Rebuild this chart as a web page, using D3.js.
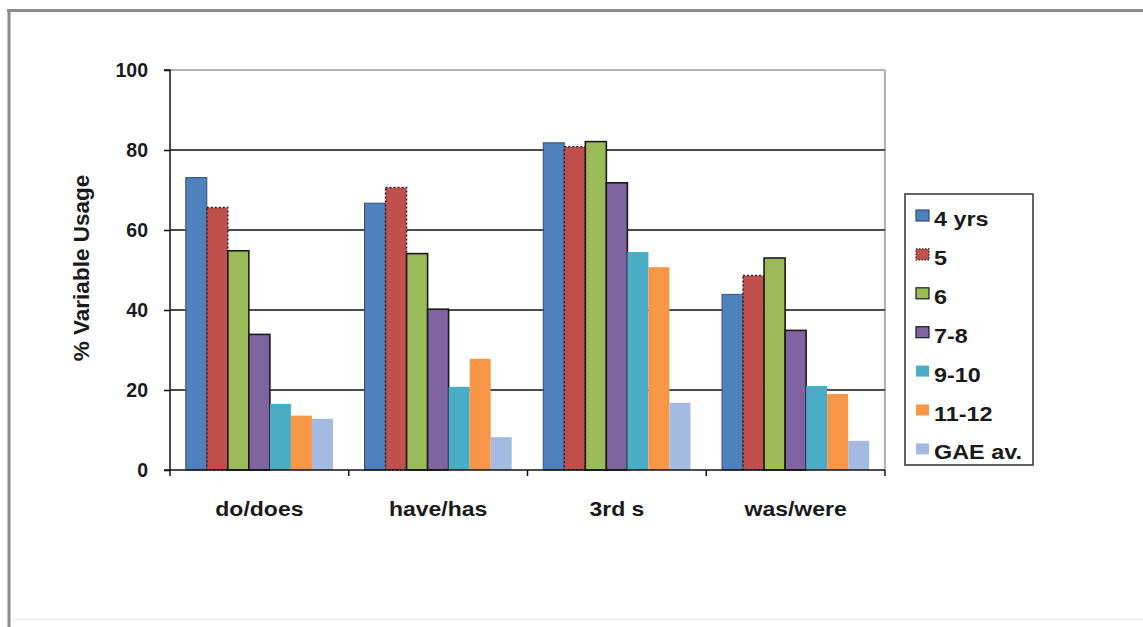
<!DOCTYPE html>
<html>
<head>
<meta charset="utf-8">
<script src="https://cdn.jsdelivr.net/npm/d3@7"></script>
<style>
  html, body { margin: 0; padding: 0; background: #fff; }
  svg { display: block; font-family: "Liberation Sans", Arial, sans-serif; }
</style>
</head>
<body>
<svg id="chart" width="1143" height="627"></svg>
<script>
// Verb forms on the x axis
const categories = ["do/does", "have/has", "3rd s", "was/were"];
// Age groups (legend order)
const seriesNames = ["4 yrs", "5", "6", "7-8", "9-10", "11-12", "GAE av."];
// % variable usage, one array per age group, in category order
const age4   = [73.1, 66.7, 81.8, 43.9];
const age5   = [65.6, 70.6, 80.8, 48.6];
const age6   = [54.8, 54.1, 82.1, 53.0];
const age78  = [33.9, 40.2, 71.8, 34.9];
const age910 = [16.5, 20.8, 54.5, 21.0];
const age1112 = [13.6, 27.8, 50.7, 19.0];
const gaeAv  = [12.8, 8.2, 16.8, 7.3];
const yTicks = [0, 20, 40, 60, 80, 100];

const seriesValues = [age4, age5, age6, age78, age910, age1112, gaeAv];
const colors = ["#4f81bd", "#c0504d", "#9bbb59", "#8064a2", "#4bacc6", "#f79646", "#a3bbe0"];
const strokes = [
  { c: "#2f4f7a", w: 1, dash: null },
  { c: "#222", w: 1.5, dash: "2,2" },
  { c: "#1a1a1a", w: 1.6, dash: null },
  { c: "#1a1a1a", w: 1.6, dash: null },
  null, null, null
];

const svg = d3.select("#chart");
const plotLeft = 170, plotRight = 885, plotTop = 70, plotBottom = 470;
const textColor = "#1a1a1a";

// Outer frame
svg.append("line").attr("x1", 7).attr("x2", 1143).attr("y1", 10.5).attr("y2", 10.5)
  .attr("stroke", "#8c8c8c").attr("stroke-width", 3);
svg.append("line").attr("x1", 9).attr("x2", 9).attr("y1", 9).attr("y2", 627)
  .attr("stroke", "#8c8c8c").attr("stroke-width", 3);
svg.append("line").attr("x1", 11).attr("x2", 1143).attr("y1", 619.5).attr("y2", 619.5)
  .attr("stroke", "#f0f0f0").attr("stroke-width", 1);

const y = d3.scaleLinear().domain([0, 100]).range([plotBottom, plotTop]);
const x0 = d3.scaleBand().domain(categories).range([plotLeft, plotRight]).paddingInner(0).paddingOuter(0);
const x1 = d3.scaleBand().domain(seriesNames).range([0, x0.bandwidth()]).paddingInner(0).paddingOuter(0.75);

// Plot area border (top & right)
svg.append("line").attr("x1", plotLeft).attr("x2", plotRight).attr("y1", plotTop).attr("y2", plotTop)
  .attr("stroke", "#9a9a9a").attr("stroke-width", 1.5);
svg.append("line").attr("x1", plotRight).attr("x2", plotRight).attr("y1", plotTop).attr("y2", plotBottom)
  .attr("stroke", "#9a9a9a").attr("stroke-width", 1.5);

// Horizontal gridlines
svg.append("g").selectAll("line").data(yTicks.filter(t => t > 0 && t < 100)).join("line")
  .attr("x1", plotLeft).attr("x2", plotRight)
  .attr("y1", d => y(d)).attr("y2", d => y(d))
  .attr("stroke", "#111").attr("stroke-width", 1.5);

// Bars
const groups = svg.append("g").selectAll("g").data(categories).join("g")
  .attr("transform", d => `translate(${x0(d)},0)`);
groups.selectAll("rect")
  .data((c, ci) => seriesNames.map((s, si) => ({ s, si, v: seriesValues[si][ci] })))
  .join("rect")
  .attr("x", d => x1(d.s))
  .attr("y", d => y(d.v))
  .attr("width", x1.bandwidth())
  .attr("height", d => plotBottom - y(d.v))
  .attr("fill", d => colors[d.si])
  .attr("stroke", d => strokes[d.si] ? strokes[d.si].c : "none")
  .attr("stroke-width", d => strokes[d.si] ? strokes[d.si].w : 0)
  .attr("stroke-dasharray", d => strokes[d.si] && strokes[d.si].dash ? strokes[d.si].dash : null);

// Y axis
const yAxis = d3.axisLeft(y).tickValues(yTicks).tickSize(6).tickPadding(16);
const yg = svg.append("g").attr("transform", `translate(${plotLeft},0)`).call(yAxis);
yg.select(".domain").attr("stroke", "#111").attr("stroke-width", 1.5).attr("d", `M-6,${plotTop}H0V${plotBottom}`);
yg.selectAll(".tick line").attr("stroke", "#111").attr("stroke-width", 1.5);
yg.selectAll(".tick text").attr("font-size", 19.5).attr("font-weight", "bold")
  .attr("fill", textColor).attr("font-family", "Liberation Sans, Arial, sans-serif");

// X axis
const xg = svg.append("g").attr("transform", `translate(0,${plotBottom})`);
xg.append("line").attr("x1", plotLeft - 6).attr("x2", plotRight).attr("y1", 0).attr("y2", 0)
  .attr("stroke", "#111").attr("stroke-width", 1.5);
const boundaries = categories.map(c => x0(c)).concat([plotRight]);
xg.selectAll(".xtick").data(boundaries).join("line").attr("class", "xtick")
  .attr("x1", d => d).attr("x2", d => d).attr("y1", 0).attr("y2", 6)
  .attr("stroke", "#111").attr("stroke-width", 1.5);
// Category labels: slightly wide lettering
xg.selectAll(".xlabel").data(categories).join("text").attr("class", "xlabel")
  .attr("transform", d => `translate(${x0(d) + x0.bandwidth() / 2},45.5) scale(1.15,1)`)
  .attr("text-anchor", "middle")
  .attr("font-size", 20).attr("font-weight", "bold").attr("fill", textColor)
  .text(d => d);

// Y axis title
svg.append("text")
  .attr("transform", "translate(89,268) rotate(-90)")
  .attr("text-anchor", "middle")
  .attr("font-size", 22.5).attr("font-weight", "bold").attr("fill", textColor)
  .text("% Variable Usage");

// Legend
const lg = svg.append("g");
lg.append("rect").attr("x", 905).attr("y", 194).attr("width", 128).attr("height", 271)
  .attr("fill", "#fff").attr("stroke", "#333").attr("stroke-width", 1.5);
const items = lg.selectAll(".item").data(seriesNames).join("g").attr("class", "item")
  .attr("transform", (d, i) => `translate(916,${218 + i * 38.9})`);
items.append("rect").attr("x", 0).attr("y", -8).attr("width", 13).attr("height", 11)
  .attr("fill", (d, i) => colors[i])
  .attr("stroke", (d, i) => strokes[i] ? strokes[i].c : "none")
  .attr("stroke-width", (d, i) => strokes[i] ? 1.2 : 0)
  .attr("stroke-dasharray", (d, i) => strokes[i] && strokes[i].dash ? "1.5,1.5" : null);
items.append("text").attr("transform", "translate(18,8) scale(1.2,1)")
  .attr("font-size", 19.5).attr("font-weight", "bold").attr("fill", textColor)
  .text(d => d);
</script>
</body>
</html>
